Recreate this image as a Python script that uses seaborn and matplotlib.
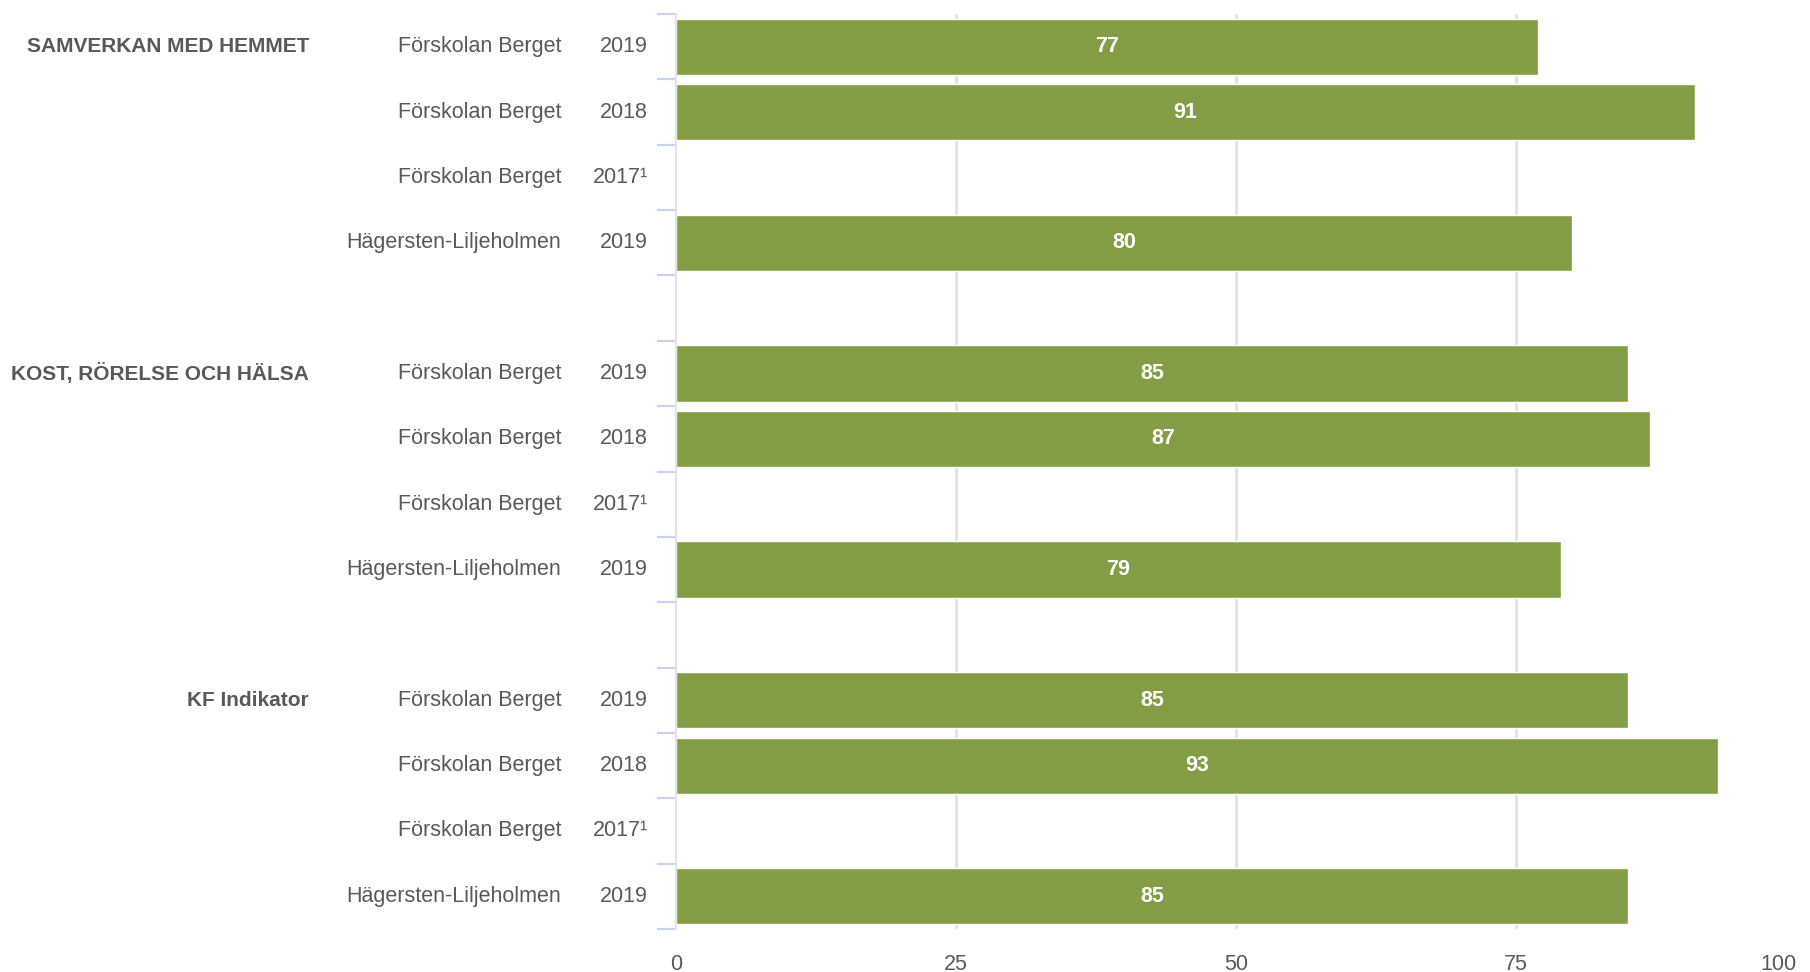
import numpy as np
import pandas as pd
import matplotlib
matplotlib.use("Agg")
import matplotlib.pyplot as plt
import matplotlib.transforms as mtransforms
import seaborn as sns

# Data
groups = ["SAMVERKAN MED HEMMET", "KOST, RÖRELSE OCH HÄLSA", "KF Indikator"]
units = ["Förskolan Berget", "Förskolan Berget", "Förskolan Berget", "Hägersten-Liljeholmen"]
years = ["2019", "2018", "2017¹", "2019"]
samverkan = [77, 91, np.nan, 80]
kost = [85, 87, np.nan, 79]
kf_indikator = [85, 93, np.nan, 85]

values = [samverkan, kost, kf_indikator]

# Build table: 4 rows per group, one empty slot between groups
rows = []
slot = 0
for gi, grp in enumerate(groups):
    for ri in range(len(units)):
        rows.append({"slot": f"s{slot}", "pos": slot, "group": grp, "unit": units[ri],
                     "year": years[ri], "value": values[gi][ri], "first": ri == 0})
        slot += 1
    if gi < len(groups) - 1:
        rows.append({"slot": f"s{slot}", "pos": slot, "group": "", "unit": "",
                     "year": "", "value": np.nan, "first": False})
        slot += 1
df = pd.DataFrame(rows)
n_slots = len(df)

sns.set_theme(style="white")
plt.rcParams['font.family'] = ['Liberation Sans', 'DejaVu Sans']

text_col = "#595959"
bar_col = "#839D45"

fig = plt.figure(figsize=(18.1, 9.72), dpi=100)
ax = fig.add_axes([676 / 1810, 1 - 929 / 972, (1796 - 676) / 1810, (929 - 14) / 972])

sns.barplot(data=df, x="value", y="slot", order=list(df["slot"]), orient="h",
            color=bar_col, width=0.86, saturation=1, ax=ax, errorbar=None)

for c in ax.containers:
    ax.bar_label(c, fmt="%.0f", label_type="center", color="white",
                 fontweight="bold", fontsize=15.5)

ax.set_xlim(0, 100)
ax.set_ylim(n_slots - 0.5, -0.5)
ax.set_xlabel("")
ax.set_ylabel("")

# x axis
ax.set_xticks([0, 25, 50, 75, 100])
ax.set_xticklabels(["0", "25", "50", "75", "100"], fontsize=15.5, color=text_col)
ax.get_xticklabels()[-1].set_ha("right")
ax.tick_params(axis="x", length=0, pad=18)
ax.xaxis.grid(True, color="#E0E0E0", linewidth=2)
ax.get_xgridlines()[-1].set_visible(False)
ax.get_xgridlines()[0].set_visible(False)
ax.set_axisbelow(True)

# y axis: ticks at slot boundaries
ax.set_yticks(np.arange(-0.5, n_slots, 1))
ax.set_yticklabels([])
ax.tick_params(axis="y", length=14, width=1.6, color="#C8D4EC", direction="out", left=True)

for s in ["top", "right", "bottom"]:
    ax.spines[s].set_visible(False)
ax.spines["left"].set_color("#E3E3E3")
ax.spines["left"].set_linewidth(1.5)

# Row labels (x in figure coords, y in data coords)
trans = mtransforms.blended_transform_factory(fig.transFigure, ax.transData)
for _, r in df.iterrows():
    if r["unit"] == "":
        continue
    ax.text(561 / 1810, r["pos"], r["unit"], transform=trans, ha="right", va="center",
            fontsize=15.5, color=text_col)
    ax.text(648 / 1810, r["pos"], r["year"], transform=trans, ha="right", va="center",
            fontsize=15.5, color=text_col)
    if r["first"]:
        ax.text(309 / 1810, r["pos"], r["group"], transform=trans, ha="right", va="center",
                fontsize=15, fontweight="bold", color=text_col)

fig.savefig("out.png", dpi=100)
